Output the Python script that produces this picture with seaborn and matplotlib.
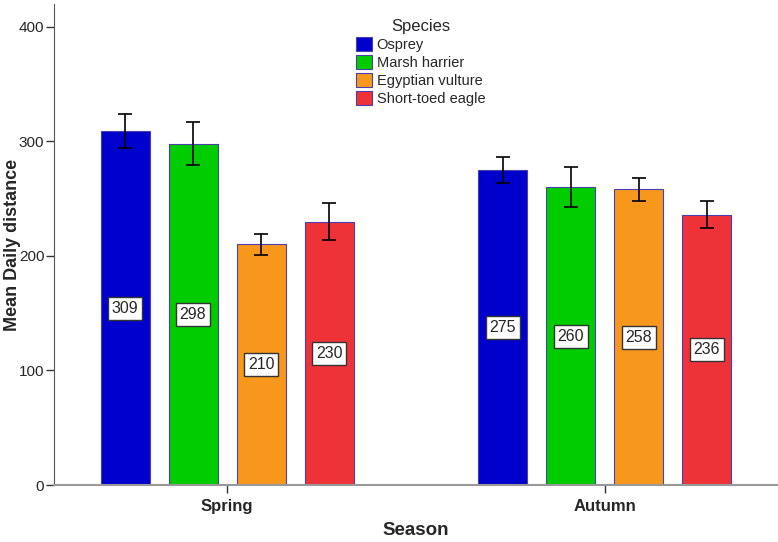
import numpy as np
import pandas as pd
import seaborn as sns
import matplotlib.pyplot as plt

# Data
seasons = ["Spring", "Autumn"]
species = ["Osprey", "Marsh harrier", "Egyptian vulture", "Short-toed eagle"]
spring_means = [309, 298, 210, 230]
autumn_means = [275, 260, 258, 236]
spring_err = [15, 18.5, 9.5, 16]
autumn_err = [11, 17.5, 10, 11.5]
colors = ["#0000CC", "#00CC00", "#F7981D", "#EE3338"]

df = pd.DataFrame({
    "Season": np.repeat(seasons, len(species)),
    "Species": species * len(seasons),
    "mean": spring_means + autumn_means,
    "err": spring_err + autumn_err,
})

sns.set_style("white")
plt.rcParams["font.family"] = ["Liberation Sans", "DejaVu Sans"]

fig = plt.figure(figsize=(7.78, 5.42), dpi=100)
ax = fig.add_axes([0.0694, 0.105, 0.929, 0.888])

sns.barplot(data=df, x="Season", y="mean", hue="Species", order=seasons,
            hue_order=species, palette=colors, errorbar=None, width=0.72,
            gap=0.28, edgecolor="#4B3FB0", linewidth=0.8, saturation=1, ax=ax)

# error bars and value labels placed on the seaborn bars
for cont, sp in zip(ax.containers, species):
    sub = df[df["Species"] == sp].set_index("Season").loc[seasons]
    for bar, m, e in zip(cont, sub["mean"], sub["err"]):
        cx = bar.get_x() + bar.get_width() / 2
        ax.errorbar(cx, m, yerr=e, color="black", capsize=5, lw=1.2, capthick=1.2)
        ax.text(cx, m / 2, str(m), ha="center", va="center", fontsize=11.5,
                bbox=dict(facecolor="white", edgecolor="#333333", boxstyle="square,pad=0.25", lw=1))

ax.set_xlim(-0.458, 1.455)
ax.set_ylim(0, 420)
ax.set_yticks([0, 100, 200, 300, 400])
ax.tick_params(axis="y", length=6, width=1, color="#333333", labelsize=11, pad=1, left=True)
ax.tick_params(axis="x", length=6, width=1, color="#333333", labelsize=12, pad=4, bottom=True)
for lab in ax.get_xticklabels():
    lab.set_fontweight("bold")
for side in ["top", "right"]:
    ax.spines[side].set_visible(False)
ax.spines["left"].set_color("#555555")
ax.spines["bottom"].set_color("#999999")
ax.spines["bottom"].set_linewidth(1.5)

ax.set_xlabel("Season", fontsize=13.5, fontweight="bold", labelpad=6)
ax.set_ylabel("Mean Daily distance", fontsize=13, fontweight="bold", va="center")
ax.yaxis.set_label_coords(-0.057, 0.5)

leg = ax.legend(title="Species", loc="upper left", bbox_to_anchor=(0.4, 0.995),
                frameon=False, fontsize=10.5, title_fontsize=12, handlelength=1.1,
                handleheight=1.1, handletextpad=0.3, labelspacing=0.2)

fig.savefig("out.png", dpi=100)
